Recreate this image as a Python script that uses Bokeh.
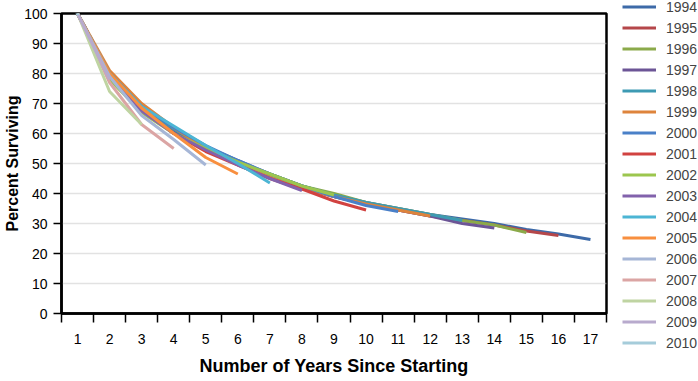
from bokeh.plotting import figure
from bokeh.models import Range1d, FixedTicker, Legend, LegendItem
from bokeh.embed import file_html
from bokeh.resources import INLINE

years_since = list(range(1, 18))
x_tick_labels = [str(i) for i in years_since]
y_ticks = [0, 10, 20, 30, 40, 50, 60, 70, 80, 90, 100]

cohorts = ["1994", "1995", "1996", "1997", "1998", "1999", "2000", "2001", "2002",
           "2003", "2004", "2005", "2006", "2007", "2008", "2009", "2010"]

s1994 = [100, 80, 69, 61.5, 55.5, 51, 46.5, 42.5, 39.5, 37, 35, 33, 31.5, 30, 28, 26.5, 24.7]
s1995 = [100, 80, 69, 61, 55, 50, 46, 42, 39, 36.5, 34.5, 32.5, 31, 29.5, 27.5, 26]
s1996 = [100, 79, 68, 61, 55, 50.5, 46.5, 42.5, 40, 37, 35, 33, 31, 29.5, 27]
s1997 = [100, 79, 68, 60.5, 54.5, 50, 45.5, 42, 39, 36.5, 34.5, 32.5, 30, 28.5]
s1998 = [100, 80, 69, 61.5, 55.5, 50.5, 46, 42.5, 39.5, 37, 35, 33, 31]
s1999 = [100, 81, 70, 62, 55, 50, 46, 42, 39, 36.5, 34.5, 32.5]
s2000 = [100, 80, 69, 62, 56, 51, 46.5, 42.5, 39, 36, 34]
s2001 = [100, 79, 68, 60, 54, 49.5, 45, 41.5, 37.5, 34.5]
s2002 = [100, 78, 67, 60, 55, 50.5, 46.5, 42.5, 39.5]
s2003 = [100, 79, 67.5, 60, 54.5, 49.5, 45, 41]
s2004 = [100, 80, 69, 62.5, 56, 50, 43.5]
s2005 = [100, 80, 68.5, 60, 52, 46.5]
s2006 = [100, 79, 66, 58, 49.5]
s2007 = [100, 77, 63, 55]
s2008 = [100, 74, 63]
s2009 = [100, 78]
s2010 = [100]

series = [s1994, s1995, s1996, s1997, s1998, s1999, s2000, s2001, s2002,
          s2003, s2004, s2005, s2006, s2007, s2008, s2009, s2010]

colors = ["#3D6AA8", "#B5474A", "#8BAA4A", "#6C5596", "#3D9AB3", "#DE843C",
          "#4A80C8", "#D14240", "#9CC64E", "#8262AC", "#4CB5D4", "#F88F3F",
          "#A6B6D6", "#DBA5A4", "#BFD4A2", "#B8AACD", "#A5CCDA"]

FONT = "Liberation Sans"

p = figure(frame_width=545, frame_height=300, output_backend="svg", toolbar_location=None,
           x_range=Range1d(0.5, 17.5), y_range=Range1d(0, 100),
           min_border_left=61, min_border_top=13, min_border_right=92, min_border_bottom=60)

items = []
for name, vals, col in zip(cohorts, series, colors):
    xs = years_since[:len(vals)]
    r = p.line(xs, vals, line_color=col, line_width=3)
    if len(vals) == 1:
        p.scatter(xs, vals, size=3, color=col)
    items.append(LegendItem(label=name, renderers=[r]))

p.outline_line_color = "black"
p.outline_line_width = 2.5

# x axis
xa = p.xaxis[0]
xa.ticker = FixedTicker(ticks=years_since, minor_ticks=[i + 0.5 for i in range(0, 18)])
xa.major_label_overrides = {i: s for i, s in zip(years_since, x_tick_labels)}
xa.major_tick_out = 0
xa.major_tick_in = 0
xa.minor_tick_out = 9
xa.minor_tick_in = 0
xa.minor_tick_line_color = "black"
xa.minor_tick_line_width = 1.5
xa.axis_line_color = "black"
xa.axis_line_width = 2.5
xa.major_label_standoff = 11
xa.major_label_text_font = FONT
xa.major_label_text_font_size = "14px"
xa.major_label_text_color = "black"
xa.axis_label = "Number of Years Since Starting"
xa.axis_label_text_font = FONT
xa.axis_label_text_font_style = "bold"
xa.axis_label_text_font_size = "18px"
xa.axis_label_text_color = "black"
xa.axis_label_standoff = 9

# y axis
ya = p.yaxis[0]
ya.ticker = FixedTicker(ticks=y_ticks)
ya.minor_tick_line_color = None
ya.major_tick_out = 8
ya.major_tick_in = 0
ya.major_tick_line_color = "black"
ya.major_tick_line_width = 1.5
ya.axis_line_color = "black"
ya.axis_line_width = 2.5
ya.major_label_standoff = 6
ya.major_label_text_font = FONT
ya.major_label_text_font_size = "14px"
ya.major_label_text_color = "black"
ya.axis_label = "Percent Surviving"
ya.axis_label_text_font = FONT
ya.axis_label_text_font_style = "bold"
ya.axis_label_text_font_size = "16px"
ya.axis_label_text_color = "black"
ya.axis_label_standoff = 0

p.xgrid.grid_line_color = None
p.ygrid.ticker = FixedTicker(ticks=y_ticks)
p.ygrid.grid_line_color = "#c4c4c4"
p.ygrid.grid_line_dash = "1 1"
p.ygrid.grid_line_width = 1.5

legend = Legend(items=items, location=(16, -40), glyph_width=34, glyph_height=21,
                label_height=21, spacing=0, padding=0, margin=0, label_standoff=10,
                border_line_color=None, background_fill_alpha=0,
                label_text_font=FONT, label_text_font_size="14px")
p.add_layout(legend, "right")

open("out.html", "w").write(file_html(p, INLINE))
